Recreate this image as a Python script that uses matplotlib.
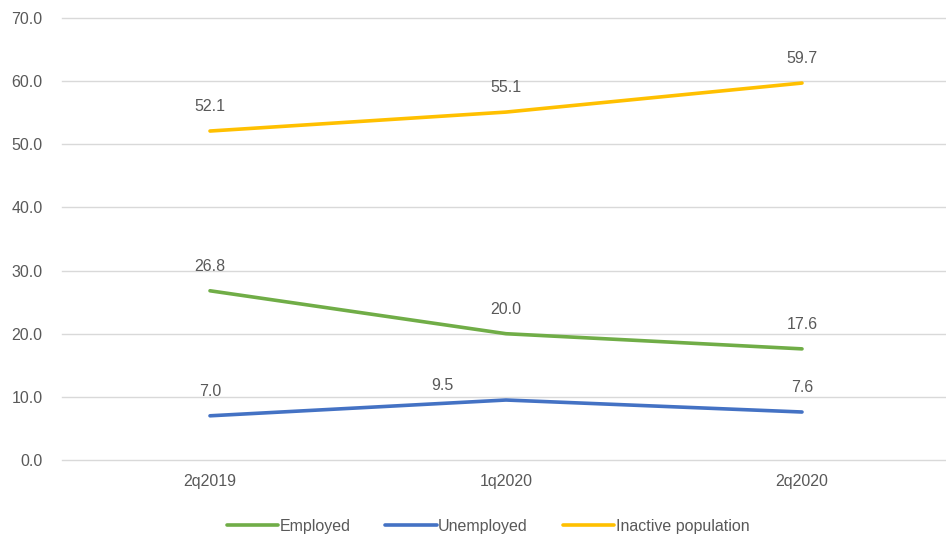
import matplotlib.pyplot as plt

quarters = ["2q2019", "1q2020", "2q2020"]
employed = [26.8, 20.0, 17.6]
unemployed = [7.0, 9.5, 7.6]
inactive = [52.1, 55.1, 59.7]
yticks = [0, 10, 20, 30, 40, 50, 60, 70]

plt.rcParams['font.family'] = ['Liberation Sans', 'DejaVu Sans']
grey = '#595959'

fig = plt.figure(figsize=(9.46, 5.36), dpi=100)
ax = fig.add_axes([62 / 946, 76 / 536, 888 / 946, 442 / 536])

series = [
    ("Employed", employed, '#70AD47'),
    ("Unemployed", unemployed, '#4472C4'),
    ("Inactive population", inactive, '#FFC000'),
]
x = range(len(quarters))
for name, vals, col in series:
    ax.plot(x, vals, color=col, lw=2.6, label=name, solid_capstyle='round')
    for xi, v in zip(x, vals):
        off = (0, 12)
        # excel nudged this label left of the peak
        if name == "Unemployed" and xi == 1:
            off = (-46, 5)
        ax.annotate(f"{v:.1f}", (xi, v), xytext=off, textcoords='offset points',
                    ha='center', va='bottom', fontsize=11.5, color=grey)

ax.set_xlim(-0.5, len(quarters) - 0.5)
ax.set_ylim(0, 70)
ax.set_yticks(yticks)
ax.set_yticklabels([f"{t:.1f}" for t in yticks])
ax.set_xticks(list(x))
ax.set_xticklabels(quarters)
ax.tick_params(length=0, labelsize=11.5, labelcolor=grey)
ax.tick_params(axis='y', pad=14)
ax.tick_params(axis='x', pad=10)
ax.grid(axis='y', color='#D9D9D9', lw=1)
for gl in ax.get_ygridlines():
    gl.set_clip_on(False)
ax.set_axisbelow(True)
for s in ax.spines.values():
    s.set_visible(False)

leg = fig.legend(loc='center', bbox_to_anchor=(488 / 946, 1 - 526 / 536), ncol=3,
                 frameon=False, fontsize=11.5, handlelength=3.2, handletextpad=0.1,
                 columnspacing=2.2)
for t in leg.get_texts():
    t.set_color(grey)

fig.savefig('out.png', dpi=100)
